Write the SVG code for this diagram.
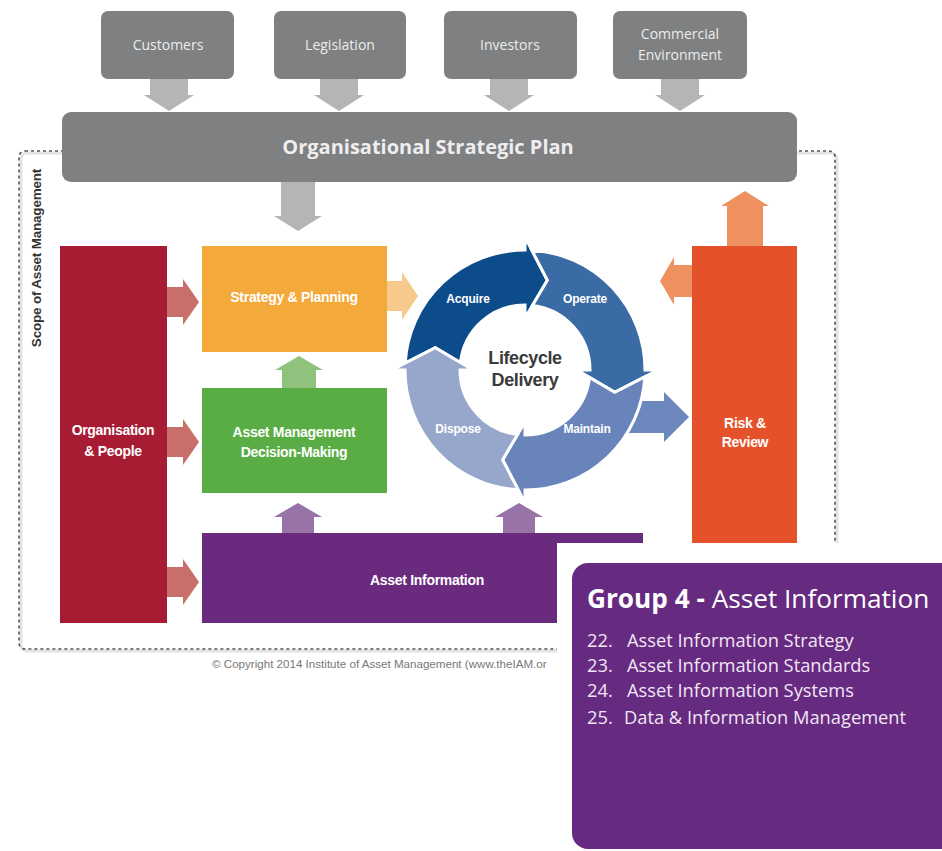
<svg xmlns="http://www.w3.org/2000/svg" width="942" height="851" viewBox="0 0 942 851">
<style>
.ext{fill:#7e8081}
.lbl{font-family:"Open Sans","Liberation Sans",sans-serif;font-size:14px;fill:#ececec;text-anchor:middle}
.bl{font-family:"Liberation Sans","Open Sans",sans-serif;font-weight:bold;font-size:14px;fill:#fff;text-anchor:middle;letter-spacing:-0.3px}
.cyc{font-family:"Liberation Sans",sans-serif;font-weight:bold;font-size:12px;fill:#fff;text-anchor:middle;letter-spacing:-0.2px}
.ga{fill:#b5b5b5}
.ra{fill:#c96f69}
.pa{fill:#9873a7}
.oa{fill:#ef9060}
.ring{stroke:#fff;stroke-width:3;stroke-linejoin:miter}
.pn{font-family:"Open Sans","Noto Sans",sans-serif;font-size:18.3px;fill:#f1e6f4}
</style>
<defs>
<path id="seg" d="M-119.81 -6.82 A120 120 0 0 1 0 -120 L0 -133 L22.38 -89.75 L0 -52 L0 -65 A65 65 0 0 0 -64.57 -7.45 L-89.75 -22.38 Z"/>
</defs>
<rect width="942" height="851" fill="#fff"/>

<g id="scope">
<rect x="21" y="153" width="816" height="498" rx="6" fill="none" stroke="#e2e2e2" stroke-width="3"/>
<rect x="19" y="151" width="816" height="498" rx="6" fill="none" stroke="#555" stroke-width="1.6" stroke-dasharray="3 3"/>
<text x="0" y="0" transform="translate(41,258) rotate(-90)" font-family="Liberation Sans,sans-serif" font-weight="bold" font-size="13.5" fill="#333" text-anchor="middle" letter-spacing="-0.2">Scope of Asset Management</text>
</g>

<g id="connectors">
<path class="ga" d="M150 78 L188 78 L188 95 L194 95 L169 111 L144 95 L150 95 Z"/>
<path class="ga" d="M320 78 L358 78 L358 95 L364 95 L339 111 L314 95 L320 95 Z"/>
<path class="ga" d="M490 78 L528 78 L528 95 L534 95 L509 111 L484 95 L490 95 Z"/>
<path class="ga" d="M661 78 L699 78 L699 95 L705 95 L680 111 L655 95 L661 95 Z"/>
<path class="ga" d="M281 181 L315 181 L315 216 L322 216 L298 231 L274 216 L281 216 Z"/>
<path class="ra" d="M167 287 L183 287 L183 279 L199 302 L183 325 L183 317 L167 317 Z"/>
<path class="ra" d="M167 427 L183 427 L183 419 L199 442 L183 465 L183 457 L167 457 Z"/>
<path class="ra" d="M167 567 L183 567 L183 559 L199 582 L183 605 L183 597 L167 597 Z"/>
<path fill="#f8c98d" d="M387 281 L402 281 L402 272 L418 296 L402 320 L402 311 L387 311 Z"/>
<path fill="#8fc27c" d="M282 388 L282 370 L275 370 L299 356 L323 370 L316 370 L316 388 Z"/>
<path class="pa" d="M282 533 L282 517 L274 517 L298 503 L322 517 L314 517 L314 533 Z"/>
<path class="pa" d="M503 533 L503 517 L495 517 L519 503 L543 517 L535 517 L535 533 Z"/>
<path fill="#6c87bb" d="M628 401 L664 401 L664 392 L689 417 L664 442 L664 433 L628 433 Z"/>
<path class="oa" d="M727 246 L727 206 L721 206 L745 191 L769 206 L763 206 L763 246 Z"/>
<path class="oa" d="M692 265 L674 265 L674 257 L660 281 L674 305 L674 297 L692 297 Z"/>
</g>

<g id="customers"><rect class="ext" x="101" y="11" width="133" height="68" rx="7"/><text class="lbl" x="168" y="50">Customers</text></g>
<g id="legislation"><rect class="ext" x="274" y="11" width="132" height="68" rx="7"/><text class="lbl" x="340" y="50">Legislation</text></g>
<g id="investors"><rect class="ext" x="444" y="11" width="133" height="68" rx="7"/><text class="lbl" x="510" y="50">Investors</text></g>
<g id="commercial"><rect class="ext" x="613" y="11" width="134" height="68" rx="7"/><text class="lbl" x="680" y="39">Commercial</text><text class="lbl" x="680" y="60">Environment</text></g>

<g id="plan"><rect class="ext" x="62" y="112" width="735" height="70" rx="9"/><text x="428" y="154" font-family="Open Sans,Liberation Sans,sans-serif" font-weight="bold" font-size="20" fill="#eee" text-anchor="middle">Organisational Strategic Plan</text></g>

<g id="org"><rect x="60" y="246" width="107" height="377" fill="#a81c33"/><text class="bl" x="113" y="435">Organisation</text><text class="bl" x="113" y="456">&amp; People</text></g>
<g id="strategy"><rect x="202" y="246" width="185" height="106" fill="#f4a93b"/><text class="bl" x="294" y="302">Strategy &amp; Planning</text></g>
<g id="decision"><rect x="202" y="388" width="185" height="105" fill="#5aad45"/><text class="bl" x="294" y="437">Asset Management</text><text class="bl" x="294" y="457">Decision-Making</text></g>
<g id="info"><rect x="202" y="533" width="441" height="90" fill="#6a2a7d"/><text class="bl" x="427" y="585">Asset Information</text></g>
<g id="risk"><rect x="692" y="246" width="105" height="380" fill="#e5512a"/><text class="bl" x="745" y="428">Risk &amp;</text><text class="bl" x="745" y="447">Review</text></g>

<g id="lifecycle" transform="translate(525,370)">
<use href="#seg" class="ring" fill="#0d4c8b"/>
<use href="#seg" class="ring" fill="#3b6ba5" transform="rotate(90)"/>
<use href="#seg" class="ring" fill="#6884bb" transform="rotate(180)"/>
<use href="#seg" class="ring" fill="#97a7cc" transform="rotate(270)"/>
<text class="cyc" x="-57" y="-67">Acquire</text>
<text class="cyc" x="60" y="-67">Operate</text>
<text class="cyc" x="62" y="63">Maintain</text>
<text class="cyc" x="-67" y="63">Dispose</text>
<text x="0" y="-6" font-family="Liberation Sans,sans-serif" font-weight="bold" font-size="18" fill="#3a3a3a" text-anchor="middle" letter-spacing="-0.4">Lifecycle</text>
<text x="0" y="16" font-family="Liberation Sans,sans-serif" font-weight="bold" font-size="18" fill="#3a3a3a" text-anchor="middle" letter-spacing="-0.4">Delivery</text>
</g>

<text x="212" y="668" font-family="Liberation Sans,sans-serif" font-size="11.6" fill="#777">© Copyright 2014 Institute of Asset Management (www.theIAM.or</text>

<g id="group4">
<rect x="557" y="543" width="385" height="308" fill="#fff"/>
<rect x="572" y="563" width="400" height="286" rx="16" fill="#662a80"/>
<text x="587" y="608" font-family="Open Sans,Noto Sans,sans-serif" font-size="26.2" fill="#fff"><tspan font-weight="bold">Group 4 - </tspan>Asset Information</text>
<text class="pn" x="587" y="647">22.<tspan x="627">Asset Information Strategy</tspan></text>
<text class="pn" x="587" y="672">23.<tspan x="627">Asset Information Standards</tspan></text>
<text class="pn" x="587" y="697">24.<tspan x="627">Asset Information Systems</tspan></text>
<text class="pn" x="587" y="724">25.<tspan x="624">Data &amp; Information Management</tspan></text>
</g>
</svg>
